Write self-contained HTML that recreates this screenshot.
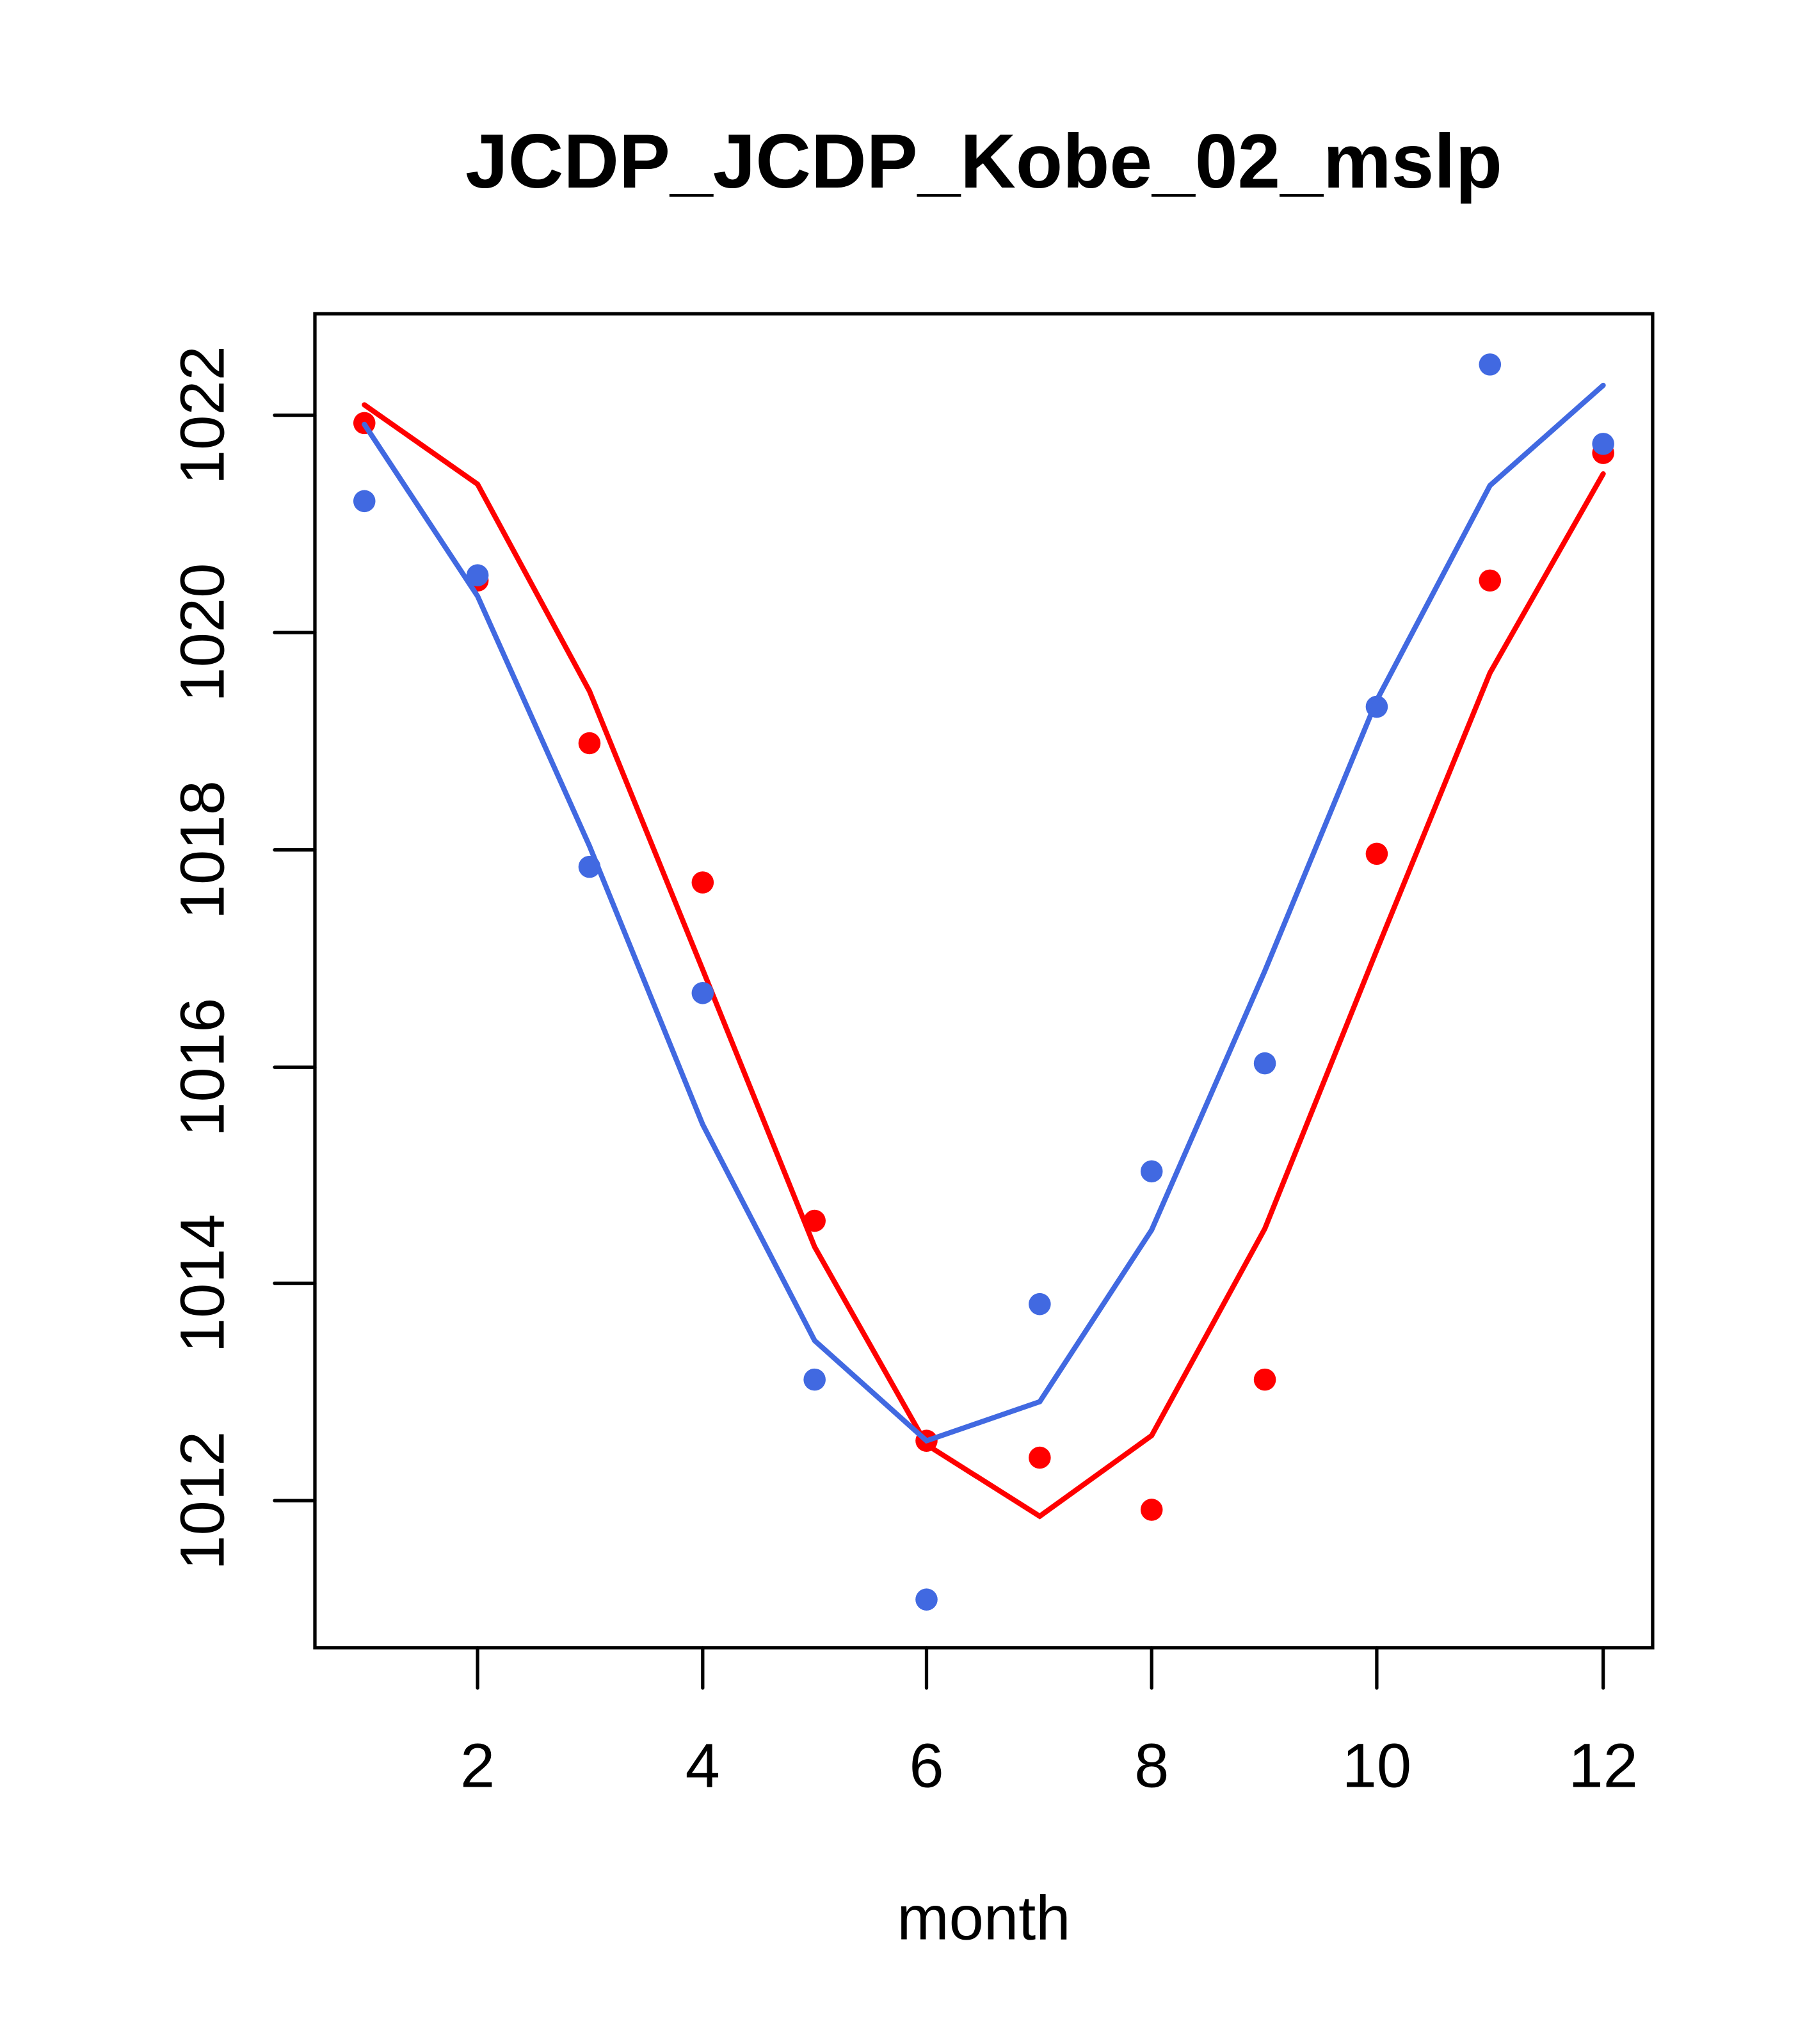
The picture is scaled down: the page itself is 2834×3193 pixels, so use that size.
<!DOCTYPE html>
<html><head><style>html,body{margin:0;padding:0;background:#fff}</style></head>
<body>
<svg width="2834" height="3188" viewBox="0 0 1394 1568" xmlns="http://www.w3.org/2000/svg" font-family="Liberation Sans, sans-serif">
<rect width="1394" height="1568" fill="#fff"/>
<text x="756" y="144" text-anchor="middle" font-size="59" font-weight="bold">JCDP_JCDP_Kobe_02_mslp</text>
<rect x="242" y="241" width="1028" height="1025" fill="none" stroke="#000" stroke-width="2.6"/>
<g stroke="#000" stroke-width="2.6" stroke-linecap="round">
<line x1="367" y1="1266" x2="367" y2="1297"/><line x1="540" y1="1266" x2="540" y2="1297"/><line x1="712" y1="1266" x2="712" y2="1297"/><line x1="885" y1="1266" x2="885" y2="1297"/><line x1="1058" y1="1266" x2="1058" y2="1297"/><line x1="1232" y1="1266" x2="1232" y2="1297"/>
<line x1="242" y1="319" x2="211" y2="319"/><line x1="242" y1="486" x2="211" y2="486"/><line x1="242" y1="653" x2="211" y2="653"/><line x1="242" y1="820" x2="211" y2="820"/><line x1="242" y1="986" x2="211" y2="986"/><line x1="242" y1="1153" x2="211" y2="1153"/>
</g>
<g font-size="48" text-anchor="middle">
<text x="367" y="1373">2</text><text x="540" y="1373">4</text><text x="712" y="1373">6</text><text x="885" y="1373">8</text><text x="1058" y="1373">10</text><text x="1232" y="1373">12</text>
<text transform="translate(172,319) rotate(-90)">1022</text>
<text transform="translate(172,486) rotate(-90)">1020</text>
<text transform="translate(172,653) rotate(-90)">1018</text>
<text transform="translate(172,820) rotate(-90)">1016</text>
<text transform="translate(172,986) rotate(-90)">1014</text>
<text transform="translate(172,1153) rotate(-90)">1012</text>
<text x="756" y="1490">month</text>
</g>
<polyline fill="none" stroke="#ff0000" stroke-width="4" stroke-linecap="round" points="280,311 367,372 453,531 540,745 626,958 712,1110 799,1165 885,1103 972,944 1058,730 1145,517 1232,364"/>
<g fill="#ff0000">
<circle cx="280" cy="325" r="8.5"/><circle cx="367" cy="446" r="8.5"/><circle cx="453" cy="571" r="8.5"/><circle cx="540" cy="678" r="8.5"/><circle cx="626" cy="938" r="8.5"/><circle cx="712" cy="1107" r="8.5"/><circle cx="799" cy="1120" r="8.5"/><circle cx="885" cy="1160" r="8.5"/><circle cx="972" cy="1060" r="8.5"/><circle cx="1058" cy="656" r="8.5"/><circle cx="1145" cy="446" r="8.5"/><circle cx="1232" cy="348" r="8.5"/>
</g>
<g fill="#4169e1">
<circle cx="280" cy="385" r="8.5"/><circle cx="367" cy="442" r="8.5"/><circle cx="453" cy="666" r="8.5"/><circle cx="540" cy="763" r="8.5"/><circle cx="626" cy="1060" r="8.5"/><circle cx="712" cy="1229" r="8.5"/><circle cx="799" cy="1002" r="8.5"/><circle cx="885" cy="900" r="8.5"/><circle cx="972" cy="817" r="8.5"/><circle cx="1058" cy="543" r="8.5"/><circle cx="1145" cy="280" r="8.5"/><circle cx="1232" cy="341" r="8.5"/>
</g>
<polyline fill="none" stroke="#4169e1" stroke-width="4" stroke-linecap="round" points="280,326 367,458 453,650 540,864 626,1030 712,1107 799,1077 885,945 972,746 1058,538 1145,373 1232,296"/>
</svg>
</body></html>
